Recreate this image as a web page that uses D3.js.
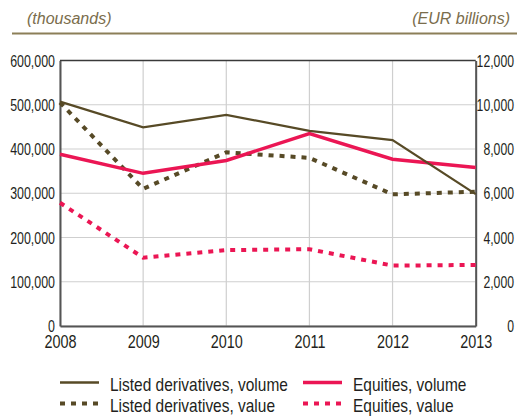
<!DOCTYPE html>
<html>
<head>
<meta charset="utf-8">
<script src="https://cdn.jsdelivr.net/npm/d3@7"></script>
<style>
  body { margin: 0; background: #fff; }
  svg text { font-family: "Liberation Sans", Arial, sans-serif; fill: #231f20; }
</style>
</head>
<body>
<svg id="chart" width="517" height="416"></svg>
<script>
// years on the x axis
const years = [2008, 2009, 2010, 2011, 2012, 2013];

// left axis: thousands of transactions
const derivVolume = [507000, 449000, 477000, 441000, 420000, 298000];
const equityVolume = [388000, 345000, 374000, 435000, 377000, 358000];

// right axis: EUR billions
const derivValue = [10100, 6200, 7850, 7600, 5950, 6070];
const equityValue = [5570, 3090, 3430, 3470, 2730, 2760];

const leftTicks = [0, 100000, 200000, 300000, 400000, 500000, 600000];
const rightTicks = [0, 2000, 4000, 6000, 8000, 10000, 12000];

const olive = "#574a26";
const pink = "#eb1654";

const margin = { top: 60.5, right: 41.3, bottom: 90, left: 60 };
const width = 517 - margin.left - margin.right;
const height = 416 - margin.top - margin.bottom;

const svg = d3.select("#chart");

// header labels and rule
svg.append("text")
    .attr("x", 27).attr("y", 24)
    .style("font-style", "italic")
    .style("font-size", "16px")
    .style("fill", "#7a6d4c")
    .text("(thousands)");
svg.append("text")
    .attr("x", 510).attr("y", 24)
    .attr("text-anchor", "end")
    .style("font-style", "italic")
    .style("font-size", "16px")
    .style("fill", "#7a6d4c")
    .text("(EUR billions)");
svg.append("line")
    .attr("x1", 12).attr("x2", 517)
    .attr("y1", 33.5).attr("y2", 33.5)
    .attr("stroke", "#8c7f58")
    .attr("stroke-width", 2);

const g = svg.append("g")
    .attr("transform", `translate(${margin.left},${margin.top})`);

// scales
const x = d3.scaleLinear().domain([2008, 2013]).range([0, width]);
const yLeft = d3.scaleLinear().domain([0, 600000]).range([height, 0]);
const yRight = d3.scaleLinear().domain([0, 12000]).range([height, 0]);

// grid
g.append("g")
    .selectAll("line")
    .data(leftTicks)
    .enter()
    .append("line")
    .attr("x1", 0).attr("x2", width)
    .attr("y1", (d) => yLeft(d)).attr("y2", (d) => yLeft(d))
    .attr("stroke", "#cfcfcf")
    .attr("stroke-width", 1.2);
g.append("g")
    .selectAll("line")
    .data(years)
    .enter()
    .append("line")
    .attr("x1", (d) => x(d)).attr("x2", (d) => x(d))
    .attr("y1", 0).attr("y2", height)
    .attr("stroke", "#cfcfcf")
    .attr("stroke-width", 1.2);

// top border
g.append("line").attr("x1", 0).attr("x2", width).attr("y1", 0).attr("y2", 0)
    .attr("stroke", "#3a3a3a").attr("stroke-width", 1.5);

// axes
const fmt = d3.format(",");
const axisLeft = g.append("g")
    .call(d3.axisLeft(yLeft).tickValues(leftTicks).tickFormat(fmt).tickSize(0).tickPadding(5));
const axisRight = g.append("g")
    .attr("transform", `translate(${width},0)`)
    .call(d3.axisRight(yRight).tickValues(rightTicks).tickFormat(fmt).tickSize(0).tickPadding(5));
const axisBottom = g.append("g")
    .attr("transform", `translate(0,${height})`)
    .call(d3.axisBottom(x).tickValues(years).tickFormat(d3.format("d")).tickSize(0).tickPadding(9));

[axisLeft, axisRight, axisBottom].forEach((a) => {
    a.select(".domain").attr("stroke", "#555").attr("stroke-width", 2);
    a.selectAll("text")
        .attr("font-family", null)
        .attr("font-size", null)
        .attr("fill", "#231f20");
});

// the source uses a condensed face: squeeze the text horizontally
const sxLeft = 0.73, sxRight = 0.72, sxYear = 0.8, sxLegend = 0.86;
axisLeft.selectAll("text")
    .style("font-size", "17px")
    .attr("dy", "0.33em")
    .attr("x", -5 / sxLeft)
    .attr("transform", `scale(${sxLeft},1)`);
axisRight.selectAll("text")
    .style("font-size", "17px")
    .attr("dy", "0.33em")
    .attr("text-anchor", "end")
    .attr("x", (514 - margin.left - width) / sxRight)
    .attr("transform", `scale(${sxRight},1)`);
axisBottom.selectAll("text")
    .style("font-size", "18px")
    .attr("transform", `scale(${sxYear},1)`);

// lines
const lineLeft = d3.line().x((d, i) => x(years[i])).y((d) => yLeft(d));
const lineRight = d3.line().x((d, i) => x(years[i])).y((d) => yRight(d));

g.append("path").datum(equityValue)
    .attr("d", lineRight)
    .attr("fill", "none").attr("stroke", pink)
    .attr("stroke-width", 4).attr("stroke-dasharray", "5,6");
g.append("path").datum(derivValue)
    .attr("d", lineRight)
    .attr("fill", "none").attr("stroke", olive)
    .attr("stroke-width", 4).attr("stroke-dasharray", "5,6");
g.append("path").datum(equityVolume)
    .attr("d", lineLeft)
    .attr("fill", "none").attr("stroke", pink)
    .attr("stroke-width", 3.5);
g.append("path").datum(derivVolume)
    .attr("d", lineLeft)
    .attr("fill", "none").attr("stroke", olive)
    .attr("stroke-width", 2.2);

// legend
const legendItems = [
    { label: "Listed derivatives, volume", color: olive, width: 2.5, dash: null, x: 60, y: 382.5 },
    { label: "Equities, volume", color: pink, width: 3.5, dash: null, x: 303, y: 382.5 },
    { label: "Listed derivatives, value", color: olive, width: 4, dash: "5,6", x: 60, y: 403.5 },
    { label: "Equities, value", color: pink, width: 4, dash: "5,6", x: 303, y: 403.5 }
];
const legend = svg.append("g");
legendItems.forEach((d) => {
    legend.append("line")
        .attr("x1", d.x).attr("x2", d.x + 39)
        .attr("y1", d.y).attr("y2", d.y)
        .attr("stroke", d.color)
        .attr("stroke-width", d.width)
        .attr("stroke-dasharray", d.dash);
    legend.append("text")
        .attr("transform", `translate(${d.x + 50},${d.y + 8}) scale(${sxLegend},1)`)
        .style("font-size", "18px")
        .text(d.label);
});
</script>
</body>
</html>
